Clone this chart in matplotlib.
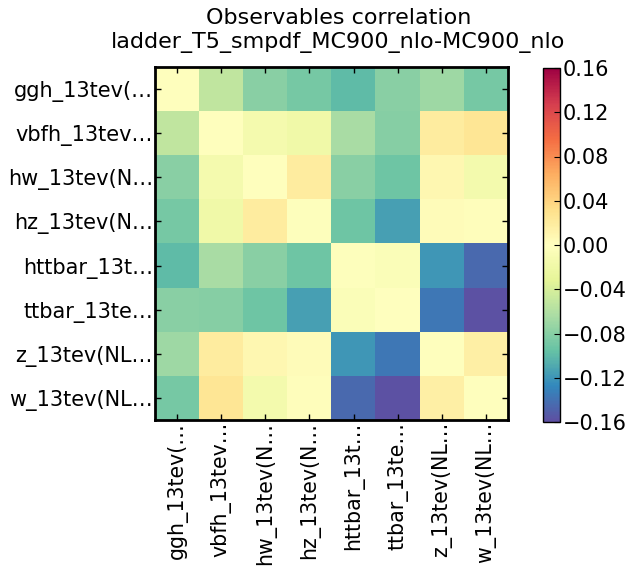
import numpy as np
import matplotlib
matplotlib.use("Agg")
import matplotlib.pyplot as plt

labels = ["ggh_13tev(…", "vbfh_13tev…", "hw_13tev(N…", "hz_13tev(N…",
          "httbar_13t…", "ttbar_13te…", "z_13tev(NL…", "w_13tev(NL…"]

row_ggh    = [0.000, -0.052, -0.080, -0.088, -0.100, -0.080, -0.069, -0.088]
row_vbfh   = [-0.052, 0.000, -0.013, -0.018, -0.064, -0.081, 0.019, 0.025]
row_hw     = [-0.080, -0.013, 0.000, 0.019, -0.080, -0.092, 0.008, -0.015]
row_hz     = [-0.088, -0.018, 0.019, -0.002, -0.092, -0.115, 0.003, 0.002]
row_httbar = [-0.100, -0.064, -0.080, -0.092, -0.002, -0.006, -0.120, -0.145]
row_ttbar  = [-0.080, -0.081, -0.092, -0.115, -0.006, -0.001, -0.137, -0.158]
row_z      = [-0.069, 0.019, 0.008, 0.003, -0.120, -0.137, 0.001, 0.015]
row_w      = [-0.088, 0.025, -0.015, 0.002, -0.145, -0.158, 0.015, 0.000]

title = "Observables correlation\nladder_T5_smpdf_MC900_nlo-MC900_nlo"
vlim = 0.16
cbar_ticks = [-0.16, -0.12, -0.08, -0.04, 0.00, 0.04, 0.08, 0.12, 0.16]

matrix = np.array([row_ggh, row_vbfh, row_hw, row_hz, row_httbar, row_ttbar, row_z, row_w])

fig = plt.figure(figsize=(6.30, 5.69), dpi=100)
ax = fig.add_axes([155/630, 1 - 420/569, 353/630, 353/569])
cax = fig.add_axes([543/630, 1 - 422/569, 17/630, 354/569])

im = ax.imshow(matrix, cmap="Spectral_r", vmin=-vlim, vmax=vlim,
               interpolation="nearest", aspect="auto")
ax.set_xticks(range(len(labels)))
ax.set_yticks(range(len(labels)))
ax.set_xticklabels(labels, rotation=90, fontsize=14.8)
ax.set_yticklabels(labels, fontsize=15)
ax.tick_params(direction="in", top=True, right=True, length=4, width=1, pad=1.5)
for s in ax.spines.values():
    s.set_linewidth(2)
ax.set_title(title, fontsize=16, pad=14, x=0.52)

cb = fig.colorbar(im, cax=cax, ticks=cbar_ticks)
cb.ax.tick_params(direction="in", labelsize=15, length=4, pad=2)
cb.ax.set_yticklabels([f"{t:.2f}".replace("-", "\u2212") for t in cbar_ticks])
cb.outline.set_linewidth(1)

fig.savefig("out.png", dpi=100)
